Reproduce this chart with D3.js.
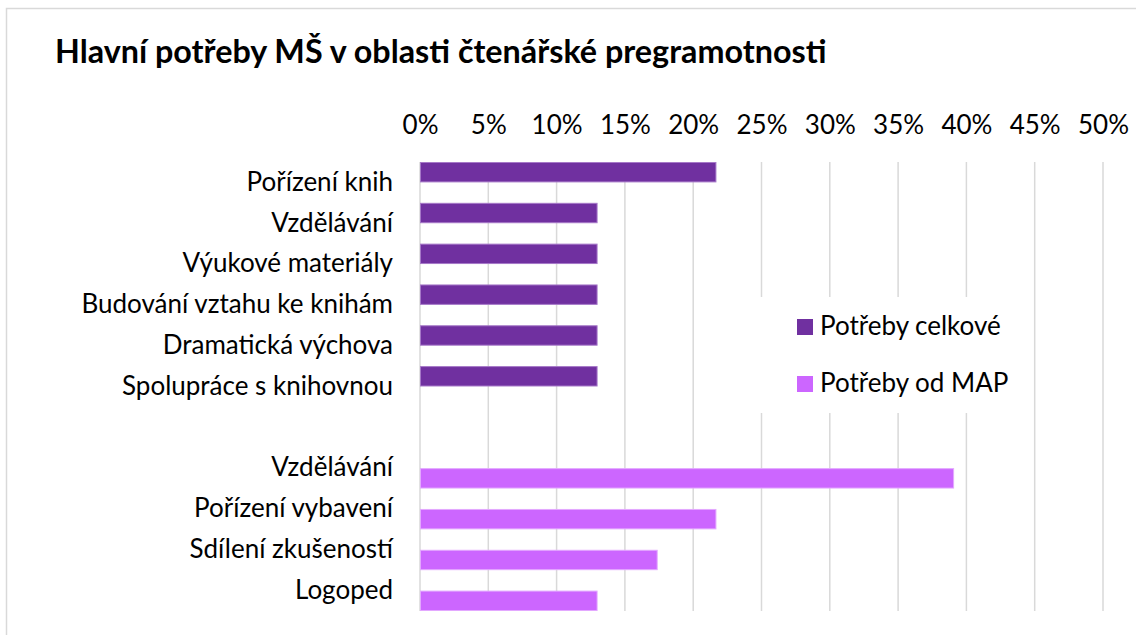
<!DOCTYPE html>
<html>
<head>
<meta charset="utf-8">
<script src="https://cdn.jsdelivr.net/npm/d3@7"></script>
<style>
  body { margin: 0; background: #fff; }
  svg text { font-family: Lato, "Open Sans", sans-serif; fill: #000; }
</style>
</head>
<body>
<svg id="chart" width="1136" height="635"></svg>
<script>
// categories top to bottom, the blank one is the gap between the two groups
var categories = ['Pořízení knih', 'Vzdělávání', 'Výukové materiály', 'Budování vztahu ke knihám',
    'Dramatická výchova', 'Spolupráce s knihovnou', '', 'Vzdělávání', 'Pořízení vybavení',
    'Sdílení zkušeností', 'Logoped'];
var seriesNames = ['Potřeby celkové', 'Potřeby od MAP'];
var celkove = [0.217, 0.130, 0.130, 0.130, 0.130, 0.130, null, null, null, null, null];
var odMap   = [null, null, null, null, null, null, null, 0.391, 0.217, 0.174, 0.130];
var xTicks = [0, 0.05, 0.10, 0.15, 0.20, 0.25, 0.30, 0.35, 0.40, 0.45, 0.50];

var colors = ['#7030a0', '#cc66ff'];
var strokes = ['#a678c8', '#e3a8ff'];

var svg = d3.select('#chart');
var margin = {top: 162, left: 420, right: 33, bottom: 24};
var width = 1136 - margin.left - margin.right;
var height = 635 - margin.top - margin.bottom;

// chart area border (runs off the picture on the right and bottom)
svg.append('rect')
    .attr('x', 6.5).attr('y', 8.5)
    .attr('width', 1300).attr('height', 800)
    .attr('fill', '#fff')
    .attr('stroke', '#d9d9d9')
    .attr('stroke-width', 1.5);

svg.append('text')
    .attr('x', 55).attr('y', 63)
    .style('font-size', '32.3px')
    .style('font-weight', 'bold')
    .text('Hlavní potřeby MŠ v oblasti čtenářské pregramotnosti');

var x = d3.scaleLinear().domain([0, 0.5]).range([0, width]);
var y = d3.scaleBand().domain(d3.range(categories.length)).range([0, height]).padding(0);
var ySub = d3.scaleBand().domain([0, 1]).range([0, y.bandwidth()]).padding(0);

var g = svg.append('g')
    .attr('transform', 'translate(' + margin.left + ',' + margin.top + ')');

// vertical gridlines
g.selectAll('.grid')
    .data(xTicks)
  .enter().append('line')
    .attr('class', 'grid')
    .attr('x1', function(d) { return x(d); })
    .attr('x2', function(d) { return x(d); })
    .attr('y1', 0).attr('y2', height)
    .attr('stroke', '#d9d9d9')
    .attr('stroke-width', 1.5);

// top axis labels
var xAxis = g.append('g')
    .call(d3.axisTop(x).tickValues(xTicks).tickFormat(d3.format('.0%')).tickSize(0).tickPadding(28));
xAxis.select('.domain').remove();
xAxis.selectAll('text')
    .style('font-size', '26px')
    .attr('fill', '#000');

// category labels
var yAxis = g.append('g')
    .call(d3.axisLeft(y).tickFormat(function(i) { return categories[i]; }).tickSize(0).tickPadding(27));
yAxis.select('.domain').remove();
yAxis.selectAll('text')
    .style('font-size', '26px')
    .attr('fill', '#000')
    .attr('dy', '0.32em');

[celkove, odMap].forEach(function(vals, s) {
    g.selectAll('.bar' + s)
        .data(vals.map(function(v, i) { return {i: i, v: v}; }).filter(function(d) { return d.v != null; }))
      .enter().append('rect')
        .attr('class', 'bar' + s)
        .attr('x', x(0) + 0.5)
        .attr('y', function(d) { return y(d.i) + ySub(s) + 0.5; })
        .attr('width', function(d) { return x(d.v) - x(0) - 1; })
        .attr('height', ySub.bandwidth() - 1)
        .attr('fill', colors[s])
        .attr('stroke', strokes[s])
        .attr('stroke-width', 1);
});

// legend, white box covers the gridlines behind it
var legend = svg.append('g').attr('transform', 'translate(745,297)');
legend.append('rect')
    .attr('width', 270).attr('height', 116)
    .attr('fill', '#fff');
var item = legend.selectAll('.item')
    .data(seriesNames)
  .enter().append('g')
    .attr('class', 'item')
    .attr('transform', function(d, i) { return 'translate(52,' + (22 + i * 57) + ')'; });
item.append('rect')
    .attr('width', 16).attr('height', 16)
    .attr('fill', function(d, i) { return colors[i]; });
item.append('text')
    .attr('x', 23).attr('y', 16)
    .style('font-size', '26px')
    .text(function(d) { return d; });
</script>
</body>
</html>
